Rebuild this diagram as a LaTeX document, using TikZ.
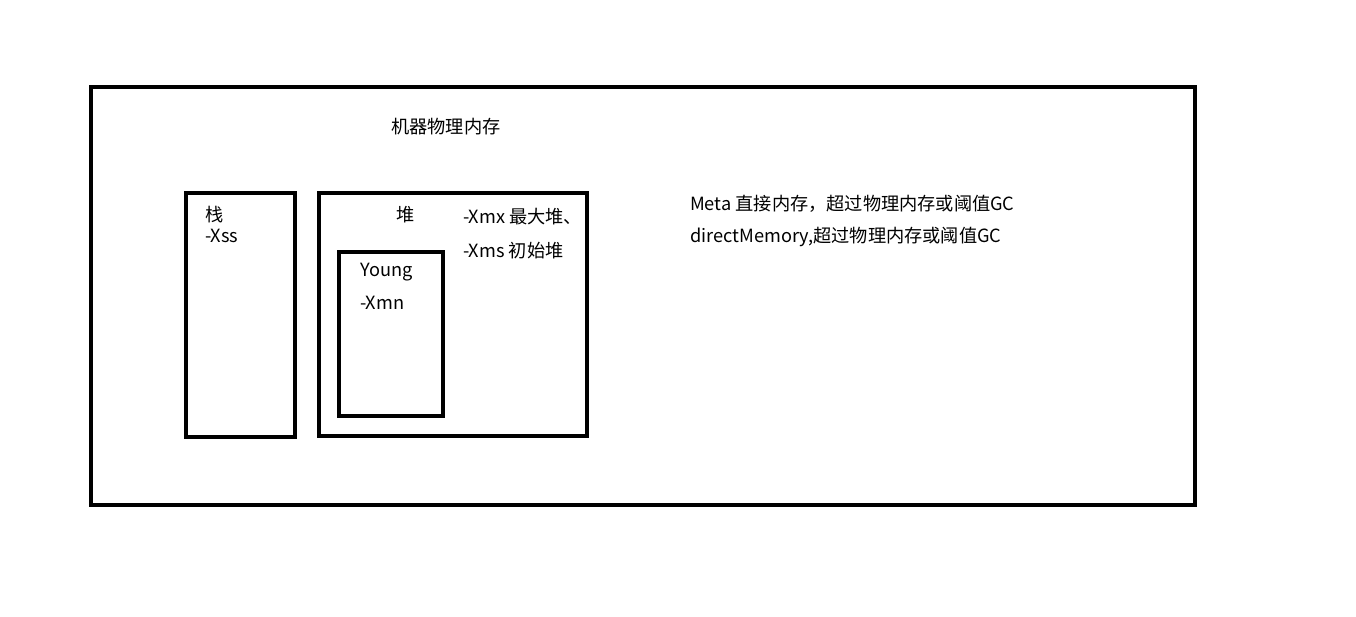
\documentclass[tikz,border=0pt]{standalone}
\usepackage{fontspec}
\setmainfont{Noto Sans CJK SC}
\usepackage{tikz}

\begin{document}
\begin{tikzpicture}[x=1pt,y=-1pt,
    every node/.style={inner sep=0pt,anchor=west,font=\fontsize{18.2}{21}\selectfont},
    box/.style={draw,line width=4.5pt}]
    \useasboundingbox (0,0) rectangle (1356,617);

    % Machine memory frame
    \draw[box] (91,87) rectangle (1195,505);
    \node (mem) at (391,127) {机器物理内存};

    % Stack
    \draw[box] (186,193) rectangle (295,437);
    \node (stack) at (205,215) {栈};
    \node (xss) at (205,236) {-Xss};

    % Heap, with young generation inside
    \draw[box] (319,193) rectangle (587,436);
    \node (heap) at (396,215) {堆};
    \node (xmx) at (463,217) {-Xmx 最大堆、};
    \node (xms) at (463,251) {-Xms 初始堆};
    \draw[box] (339,252) rectangle (443,416);
    \node (young) at (360,272) {Young};
    \node (xmn) at (360,303) {-Xmn};

    % Outside the heap
    \node (meta) at (690,204) {Meta 直接内存，超过物理内存或阈值GC};
    \node (direct) at (690,237) {directMemory,超过物理内存或阈值GC};

  \end{tikzpicture}
\end{document}
